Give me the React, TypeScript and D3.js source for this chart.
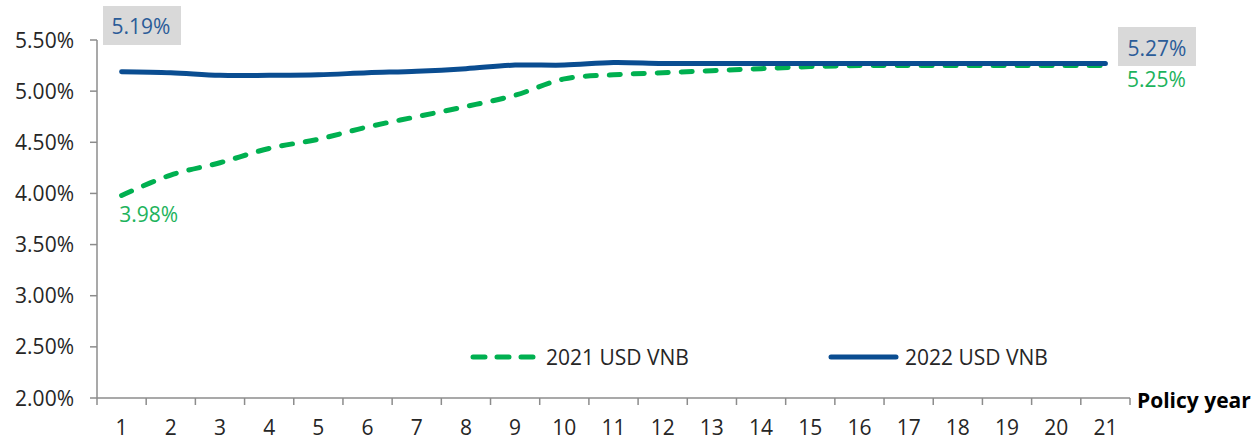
import React from "react";
import * as d3 from "d3";

const years = d3.range(1, 22);
const series2021 = [3.98, 4.18, 4.30, 4.44, 4.53, 4.65, 4.75, 4.85, 4.96, 5.12, 5.16, 5.18, 5.20, 5.22, 5.24, 5.25, 5.25, 5.25, 5.25, 5.25, 5.25];
const series2022 = [5.19, 5.18, 5.155, 5.155, 5.16, 5.18, 5.195, 5.22, 5.255, 5.255, 5.28, 5.27, 5.27, 5.27, 5.27, 5.27, 5.27, 5.27, 5.27, 5.27, 5.27];
const yTicks = [2.0, 2.5, 3.0, 3.5, 4.0, 4.5, 5.0, 5.5];
const seriesNames = ["2021 USD VNB", "2022 USD VNB"];

const W = 1255, H = 441;
const FONT = "'Open Sans', sans-serif";
const FS = 21;
const BLUE = "#0a4d91";
const GREEN = "#00b050";
const AXIS = "#8c8c8c";

export default function App() {
  const x = d3.scaleBand<number>().domain(years).range([97, 1130]);
  const y = d3.scaleLinear().domain([2, 5.5]).range([398, 40]);
  const cx = (d: number) => (x(d) as number) + x.bandwidth() / 2;
  const line = d3
    .line<number>()
    .x((_, i) => cx(years[i]))
    .y((v) => y(v))
    .curve(d3.curveCatmullRom.alpha(0.5));
  const fmt = (v: number) => v.toFixed(2) + "%";
  const lastX = cx(years[years.length - 1]);
  const firstX = cx(years[0]);
  const boundaries = d3.range(0, years.length + 1).map((i) => 97 + i * x.bandwidth());

  return (
    <svg width={W} height={H} style={{ position: "absolute", left: 0, top: 0 }} fontFamily={FONT}>
      <rect width={W} height={H} fill="#fff" />
      {/* y axis */}
      <line x1={97} x2={97} y1={y(5.5)} y2={y(2)} stroke={AXIS} strokeWidth={1.5} />
      {yTicks.map((t) => (
        <g key={t}>
          <line x1={90} x2={97} y1={y(t)} y2={y(t)} stroke={AXIS} strokeWidth={1.5} />
          <text x={74} y={y(t) + 7.5} textAnchor="end" fontSize={FS} fill="#262626">
            {t.toFixed(2) + "%"}
          </text>
        </g>
      ))}
      {/* x axis */}
      <line x1={97} x2={1130} y1={y(2)} y2={y(2)} stroke={AXIS} strokeWidth={1.5} />
      {boundaries.map((b, i) => (
        <line key={i} x1={b} x2={b} y1={y(2)} y2={y(2) + 7} stroke={AXIS} strokeWidth={1.5} />
      ))}
      {years.map((yr) => (
        <text key={yr} x={cx(yr)} y={435} textAnchor="middle" fontSize={FS} fill="#262626">
          {yr}
        </text>
      ))}
      <text x={1137} y={408} fontSize={FS} fontWeight="bold" fill="#000">
        Policy year
      </text>
      {/* lines */}
      <path d={line(series2021) || ""} fill="none" stroke={GREEN} strokeWidth={5} strokeDasharray="11 13" strokeLinecap="round" />
      <path d={line(series2022) || ""} fill="none" stroke={BLUE} strokeWidth={5} strokeLinecap="round" />
      {/* annotations */}
      <rect x={103} y={6} width={78} height={39} fill="#d9d9d9" />
      <text x={141} y={34} textAnchor="middle" fontSize={FS} fill="#2b5c98">
        {fmt(series2022[0])}
      </text>
      <text x={firstX + 27} y={222} textAnchor="middle" fontSize={FS} fill="#1db35c">
        {fmt(series2021[0])}
      </text>
      <rect x={1118} y={27} width={78} height={39} fill="#d9d9d9" />
      <text x={1157} y={56} textAnchor="middle" fontSize={FS} fill="#2b5c98">
        {fmt(series2022[series2022.length - 1])}
      </text>
      <text x={lastX + 51} y={87} textAnchor="middle" fontSize={FS} fill="#1db35c">
        {fmt(series2021[series2021.length - 1])}
      </text>
      {/* legend */}
      <line x1={473} x2={534} y1={357} y2={357} stroke={GREEN} strokeWidth={5} strokeDasharray="12 12" strokeLinecap="round" />
      <text x={546} y={364.5} fontSize={FS} fill="#262626">{seriesNames[0]}</text>
      <line x1={831} x2={896} y1={357} y2={357} stroke={BLUE} strokeWidth={5} strokeLinecap="round" />
      <text x={905} y={364.5} fontSize={FS} fill="#262626">{seriesNames[1]}</text>
    </svg>
  );
}
